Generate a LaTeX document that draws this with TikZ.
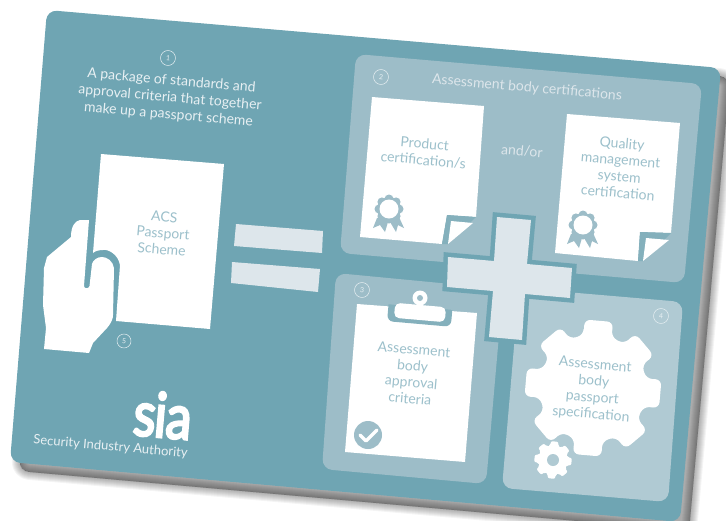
\documentclass[tikz,border=0pt]{standalone}
\usepackage{fontspec}
\setmainfont{Lato}
\newfontfamily\logofont[FakeBold=4]{Lato}
\usepackage{xcolor}
\usetikzlibrary{positioning}
\definecolor{cardteal}{HTML}{6FA5B3}
\definecolor{panelmid}{HTML}{9DBDC8}
\definecolor{panellight}{HTML}{B0CAD3}
\definecolor{foldband}{HTML}{84B0BC}
\definecolor{barpale}{HTML}{DDE6EB}
\definecolor{doctext}{HTML}{9CC0CB}
\definecolor{cardtext}{HTML}{E8F0F3}
\tikzset{
	sheet/.style={fill=white,draw=none},
	cardlabel/.style={align=center,rotate=-5,text=cardtext,inner sep=0pt,font=\fontsize{14}{17}\selectfont},
	doclabel/.style={align=center,rotate=-5,text=doctext,inner sep=0pt,font=\fontsize{14}{16.5}\selectfont},
	numring/.style={circle,draw=cardtext,line width=0.5pt,minimum size=15pt,inner sep=0pt,rotate=-5,text=cardtext,font=\fontsize{7}{7}\selectfont},
}
\newcommand{\plotBadge}[2]
{
	\begin{scope}[shift={(#1,#2)}]
		\fill[panelmid] (-12,9) -- (-16,19) -- (-9,16) -- (-4,23) -- (-1,13) -- (1,13) -- (7,23) -- (9,16) -- (15,19) -- (10,8) -- cycle;
		\fill[panelmid] (0,0) circle (12);
		\foreach \a in {0,45,...,315}
			\fill[panelmid] (\a:10) circle (4.5);
		\fill[white] (0,0) circle (9.5);
	\end{scope}
}
\newcommand{\plotGear}[6]
{
	\fill[#5,shift={(#1,#2)},rounded corners=#6] (-100:#4)
		\foreach \a in {-85,-40,5,50,95,140,185,230}
			{ -- (\a-12:#3) -- (\a+12:#3) -- (\a+15:#4) -- (\a+30:#4) } -- cycle;
}
\begin{document}
\begin{tikzpicture}[x=1pt,y=-1pt]
\useasboundingbox (0,0) rectangle (726,520);

% shadow and card
\foreach \w in {16,14,...,0}
	\fill[black,opacity=0.045,draw=black,line width=\w pt,line join=round,rounded corners=10,shift={(9,9)}]
		(47,10) -- (721,68) -- (680,522) -- (10,462) -- cycle;
\fill[cardteal,rounded corners=10] (47,10) -- (721,68) -- (680,522) -- (10,462) -- cycle;

% panels
\fill[panelmid,rounded corners=10] (356,54) -- (702,84) -- (684,283) -- (340,253) -- cycle;
\fill[panelmid,rounded corners=10] (336,273) -- (503,289) -- (486,484) -- (322,469) -- cycle;
\fill[panellight,rounded corners=10] (519,288) -- (683,302) -- (668,502) -- (502,488) -- cycle;

% left part
\node[cardlabel] (introtext) at (170,98) {A package of standards and\\approval criteria that together\\make up a passport scheme};
\node[numring] (numone) at (168,58) {1};
\fill[sheet] (101,154) -- (224,164) -- (210,329) -- (116,321) -- (120,265)
	.. controls (118,254) and (108,249) .. (103,250) .. controls (99,250) and (95,251) .. (93,253) -- cycle;
\fill[sheet] (89,220) -- (80,220) .. controls (75,221) and (71,226) .. (71,237) -- (47,257) -- (44,268) -- (43,305) -- (46,328) -- (44,349) -- (89,353)
	-- (93,343) -- (107,328) .. controls (112,322) and (113,318) .. (113,315) -- (114,268)
	.. controls (113,261) and (107,257) .. (102,257) .. controls (97,257) and (93,260) .. (92,264)
	-- (89.5,286) .. controls (89,289) and (84,289) .. (84,286) -- cycle;
\node[doclabel] (acstext) at (163,233) {ACS\\Passport\\Scheme};
\node[numring,minimum size=14pt] (numfive) at (124,341) {5};
\fill[barpale] (236,224) -- (323,231) -- (322,253) -- (234,246) -- cycle;
\fill[barpale] (232,262) -- (320,269) -- (318,292) -- (231,283) -- cycle;

% logo
\node[rotate=-5,text=white,inner sep=0pt] (sialogo) at (163,415) {\scalebox{0.84}[1]{\fontsize{62}{62}\logofont s\kern-2pt i\kern-1pt a}};
\node[rotate=-5,text=cardtext,inner sep=0pt,font=\fontsize{13}{15}\selectfont] (siatext) at (110.5,447) {Security Industry Authority};

% certifications
\node[cardlabel,text=barpale] (certtitle) at (527,88) {Assessment body certifications};
\node[numring] (numtwo) at (381,77) {2};
\node[cardlabel,text=barpale] (andor) at (522,151) {and/or};

\fill[sheet] (372,97) -- (484,106) -- (476,217) -- (447,215) -- (442,244) -- (360,237) -- cycle;
\fill[foldband] (447,215) -- (476,217) -- (448,244) -- (442,244) -- cycle;
\fill[sheet] (451,221) -- (473,223) -- (448,244) -- cycle;
\plotBadge{389}{209}
\node[doclabel] (producttext) at (424,152) {Product\\certification/s};

\fill[sheet] (567,114) -- (680,123) -- (671,233) -- (640,232) -- (638,261) -- (555,253) -- cycle;
\fill[foldband] (640,232) -- (671,233) -- (643,261) -- (638,261) -- cycle;
\fill[sheet] (646,238) -- (669,240) -- (643,261) -- cycle;
\plotBadge{583}{225}
\node[doclabel] (qualitytext) at (620,168) {Quality\\management\\system\\certification};

% clipboard
\node[numring] (numthree) at (362,290) {3};
\fill[sheet] (357,304) -- (477,313) -- (465,462) -- (345,452) -- cycle;
\node[rotate=-5,fill=foldband,rounded corners=6,minimum width=64pt,minimum height=24pt,inner sep=0pt] (clipband) at (420,312) {};
\fill[panelmid] (386,296) -- (456,302) -- (454,310) -- (386,304) -- cycle;
\fill[white] (420,298) circle (7.5);
\fill[panelmid] (420,298) circle (3);
\node[rotate=-5,fill=white,rounded corners=5,minimum width=51pt,minimum height=15pt,inner sep=0pt] (clipplate) at (420,312.5) {};
\node[doclabel] (approvaltext) at (412,374) {Assessment\\body\\approval\\criteria};
\fill[panelmid] (368,435) circle (14);
\draw[white,line width=3.2pt,line cap=round,line join=round] (360,435) -- (366,441) -- (377,430);

% gears
\node[numring] (numfour) at (661,316) {4};
\plotGear{593}{388}{69}{54}{white}{6}
\node[doclabel] (passporttext) at (593,390) {Assessment\\body\\passport\\specification};
\plotGear{553}{460}{19}{14.5}{white}{2}
\fill[panellight] (553,460) circle (6);

% plus
\fill[barpale,preaction={draw=cardteal,line width=9pt,line join=miter}] (497,217) -- (531,220) -- (527,264) -- (572,268) -- (570,298) -- (525,294) -- (522,340) -- (489,337) -- (493,291) -- (447,287) -- (448,257) -- (494,261) -- cycle;
\end{tikzpicture}
\end{document}
